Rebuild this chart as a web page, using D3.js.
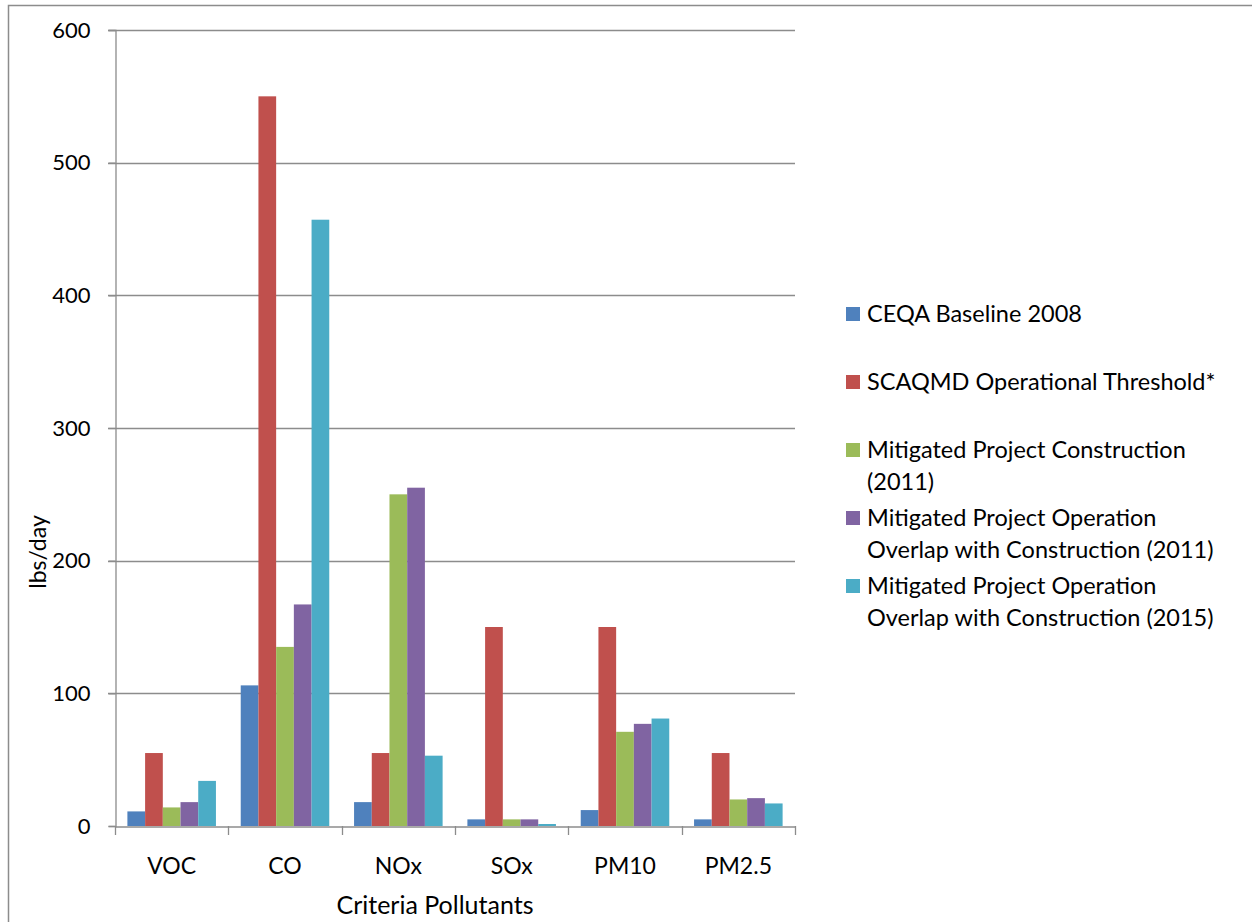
<!DOCTYPE html>
<html>
<head>
<meta charset="utf-8">
<script src="https://cdn.jsdelivr.net/npm/d3@7"></script>
<style>
  body { margin: 0; background: #fff; }
  svg text { font-family: Lato, "Open Sans", sans-serif; fill: #000; }
</style>
</head>
<body>
<div id="chart"></div>
<script>
const categories = ["VOC", "CO", "NOx", "SOx", "PM10", "PM2.5"];
const seriesNames = [
    "CEQA Baseline 2008",
    "SCAQMD Operational Threshold*",
    "Mitigated Project Construction (2011)",
    "Mitigated Project Operation Overlap with Construction (2011)",
    "Mitigated Project Operation Overlap with Construction (2015)"
];
// legend lines, as wrapped in the original
const legendLines = [
    ["CEQA Baseline 2008"],
    ["SCAQMD Operational Threshold*"],
    ["Mitigated Project Construction", "(2011)"],
    ["Mitigated Project Operation", "Overlap with Construction (2011)"],
    ["Mitigated Project Operation", "Overlap with Construction (2015)"]
];
const baseline2008 = [11, 106, 18, 5, 12, 5];
const threshold = [55, 550, 55, 150, 150, 55];
const construction2011 = [14, 135, 250, 5, 71, 20];
const overlap2011 = [18, 167, 255, 5, 77, 21];
const overlap2015 = [34, 457, 53, 1.5, 81, 17];
const yTicks = [0, 100, 200, 300, 400, 500, 600];
const colors = ["#4F81BD", "#C0504D", "#9BBB59", "#8064A2", "#4BACC6"];

const seriesValues = [baseline2008, threshold, construction2011, overlap2011, overlap2015];

const width = 1252, height = 922;
const plot = { left: 115, right: 795, top: 30, bottom: 826 };

const svg = d3.select("#chart").append("svg")
    .attr("width", width).attr("height", height);

// outer chart frame
svg.append("rect")
    .attr("x", 8.5).attr("y", 5.5)
    .attr("width", 1300).attr("height", 1000)
    .attr("fill", "none").attr("stroke", "#8c8c8c").attr("stroke-width", 1.5);

const y = d3.scaleLinear().domain([0, 600]).range([plot.bottom, plot.top]);
const x0 = d3.scaleBand().domain(categories).range([plot.left, plot.right]).padding(0);
const x1 = d3.scaleBand().domain(d3.range(seriesNames.length))
    .range([0, x0.bandwidth()]).paddingInner(0).paddingOuter(0.7);

// gridlines
svg.append("g")
    .selectAll("line")
    .data(yTicks.filter(d => d > 0))
    .enter().append("line")
    .attr("x1", plot.left - 7).attr("x2", plot.right)
    .attr("y1", d => Math.round(y(d)) + 0.5).attr("y2", d => Math.round(y(d)) + 0.5)
    .attr("stroke", "#8c8c8c").attr("stroke-width", 1.3);

// bars
const groups = svg.append("g")
    .selectAll("g")
    .data(categories)
    .enter().append("g")
    .attr("transform", d => `translate(${x0(d)},0)`);

groups.selectAll("rect")
    .data((d, i) => seriesValues.map((s, k) => ({ k: k, v: s[i] })))
    .enter().append("rect")
    .attr("x", d => x1(d.k))
    .attr("width", x1.bandwidth())
    .attr("y", d => y(d.v))
    .attr("height", d => y(0) - y(d.v))
    .attr("fill", d => colors[d.k]);

// y axis
const yAxis = svg.append("g")
    .attr("transform", `translate(${plot.left + 0.5},0)`)
    .call(d3.axisLeft(y).tickValues(yTicks).tickSize(7).tickPadding(18));
yAxis.select(".domain").attr("stroke", "#8c8c8c").attr("stroke-width", 1.3);
yAxis.selectAll(".tick line").attr("stroke", "#8c8c8c").attr("stroke-width", 1.3);
yAxis.selectAll("text").style("font-size", "22px");

// x axis
const xAxis = svg.append("g")
    .attr("transform", `translate(0,${plot.bottom + 0.5})`)
    .call(d3.axisBottom(x0).tickSize(0).tickPadding(31));
xAxis.select(".domain").attr("stroke", "#8c8c8c").attr("stroke-width", 1.3);
xAxis.selectAll("text").style("font-size", "23px");

// x axis tick marks at band edges
svg.append("g")
    .selectAll("line")
    .data(categories.concat(["end"]))
    .enter().append("line")
    .attr("x1", (d, i) => Math.round(plot.left + i * x0.step()) + 0.5)
    .attr("x2", (d, i) => Math.round(plot.left + i * x0.step()) + 0.5)
    .attr("y1", plot.bottom).attr("y2", plot.bottom + 9)
    .attr("stroke", "#8c8c8c").attr("stroke-width", 1.3);

// axis titles
svg.append("text")
    .attr("x", 435).attr("y", 914)
    .attr("text-anchor", "middle")
    .style("font-size", "25px")
    .text("Criteria Pollutants");

svg.append("text")
    .attr("transform", "translate(46,552) rotate(-90)")
    .attr("text-anchor", "middle")
    .style("font-size", "23px")
    .text("lbs/day");

// legend
const legendY = [314, 382, 450, 518, 586];
const legend = svg.append("g");
legendLines.forEach((lines, i) => {
    legend.append("rect")
        .attr("x", 846).attr("y", legendY[i] - 7)
        .attr("width", 14).attr("height", 14)
        .attr("fill", colors[i]);
    const t = legend.append("text")
        .attr("x", 867).attr("y", legendY[i] + 8)
        .style("font-size", "23.5px");
    lines.forEach((line, j) => {
        t.append("tspan").attr("x", 867).attr("dy", j === 0 ? 0 : 32).text(line);
    });
});
</script>
</body>
</html>
